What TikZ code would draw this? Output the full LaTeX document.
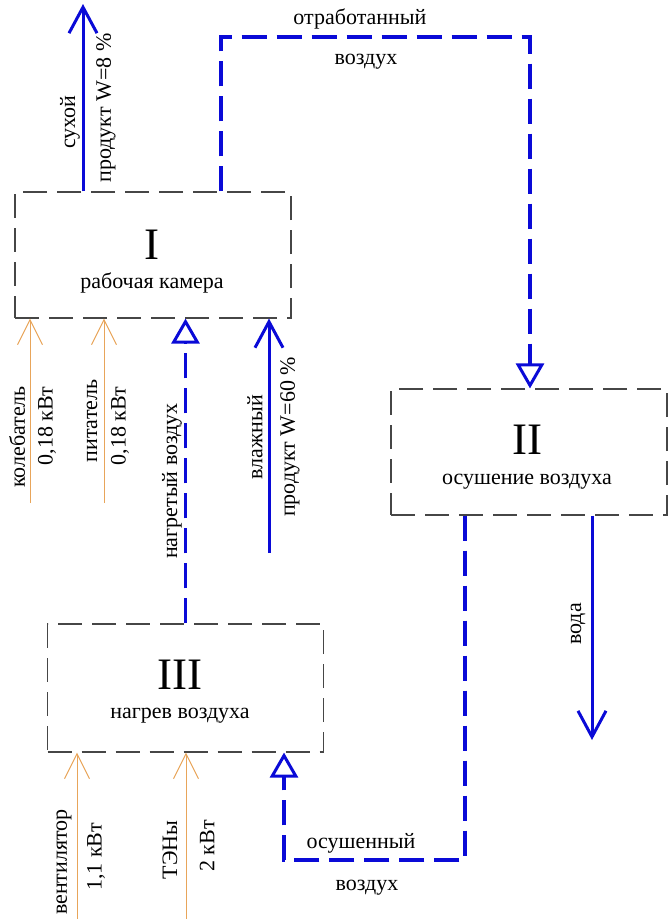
\documentclass[tikz,border=0pt]{standalone}
\usepackage{fontspec}
\setmainfont{Liberation Serif}
\usetikzlibrary{arrows.meta,calc}

\definecolor{flowblue}{RGB}{10,10,215}
\definecolor{powor}{RGB}{232,165,90}
\definecolor{boxgray}{RGB}{70,70,70}

\begin{document}
\begin{tikzpicture}[
  x=1pt, y=-1pt,
  font=\fontsize{22}{26}\selectfont,
  unit/.style={draw=boxgray, line width=1.1pt, dash pattern=on 24pt off 10pt,
               minimum width=276pt, minimum height=126pt, inner sep=0pt},
  num/.style={font=\fontsize{45}{45}\selectfont, inner sep=0pt},
  captxt/.style={anchor=base, inner sep=0pt},
  lbl/.style={inner sep=0pt},
  vlbl/.style={lbl, rotate=90},
  prod/.style={draw=flowblue, line width=3pt,
               -{Straight Barb[length=26pt, width=28pt, line width=3pt]}},
  air/.style={draw=flowblue, line width=3.6pt, dash pattern=on 25pt off 10pt,
              -{Triangle[open, length=25pt, width=28pt, line width=3pt]}},
  pwr/.style={draw=powor, line width=1pt,
              -{Straight Barb[length=25pt, width=25pt, line width=1pt]}}
]
\useasboundingbox (0,0) rectangle (670,919);

% units
\node[unit] (k1) at (153,255) {};
\node[unit] (k2) at (529,452) {};
\node[unit, minimum height=128pt] (k3) at (185.5,688) {};

\node[num] (n1) at (152,245) {I};
\node[captxt] (c1) at (152,288) {рабочая камера};
\node[num] (n2) at (527,440) {II};
\node[captxt] (c2) at (527,484) {осушение воздуха};
\node[num] (n3) at (180,675) {III};
\node[captxt] (c3) at (180,718) {нагрев воздуха};

% free ends
\coordinate (dry) at (83,4);
\coordinate (wet) at (269,553);
\coordinate (wat) at (592,740);
\coordinate (ex1) at (221,37);
\coordinate (ex2) at (530,37);
\coordinate (dr1) at (465,860);
\coordinate (dr2) at (284,860);
\coordinate (in1) at (30,503);
\coordinate (in2) at (104,503);
\coordinate (in3) at (77,919);
\coordinate (in4) at (186,919);

% product and water
\draw[prod] (dry |- k1.north) -- (dry);
\draw[prod] (wet) -- (wet |- k1.south);
\draw[prod] (wat |- k2.south) -- (wat);

% air loop
\draw[air] (ex1 |- k1.north) -- (ex1) -- (ex2) -- (ex2 |- k2.north);
\draw[air] (dr1 |- k2.south) -- (dr1) -- (dr2) -- (dr2 |- k3.south);
\draw[air] (k3.north) -- (k3.north |- k1.south);

% drives
\draw[pwr] (in1) -- (in1 |- k1.south);
\draw[pwr] (in2) -- (in2 |- k1.south);
\draw[pwr] (in3) -- (in3 |- k3.south);
\draw[pwr] (in4) -- (in4 |- k3.south);

% labels
\node[vlbl] (l1) at (70,122) {сухой};
\node[vlbl] (l2) at (106,108) {продукт W=8 \%};
\node[lbl, anchor=base] (l3) at (360,24) {отработанный};
\node[lbl, anchor=base] (l4) at (366,64) {воздух};
\node[vlbl] (l5) at (17,437) {колебатель};
\node[vlbl] (l6) at (47,426) {0,18 кВт};
\node[vlbl] (l7) at (92,421) {питатель};
\node[vlbl] (l8) at (120,426) {0,18 кВт};
\node[vlbl] (l9) at (172,481) {нагретый воздух};
\node[vlbl] (l10) at (255,437) {влажный};
\node[vlbl] (l11) at (290,437) {продукт W=60 \%};
\node[vlbl] (l12) at (578,624) {вода};
\node[vlbl] (l13) at (64,862) {вентилятор};
\node[vlbl] (l14) at (96,857) {1,1 кВт};
\node[vlbl] (l15) at (170,850) {ТЭНы};
\node[vlbl] (l16) at (207,846) {2 кВт};
\node[lbl, anchor=base] (l17) at (361,848) {осушенный};
\node[lbl, anchor=base] (l18) at (367,890) {воздух};
\end{tikzpicture}
\end{document}
